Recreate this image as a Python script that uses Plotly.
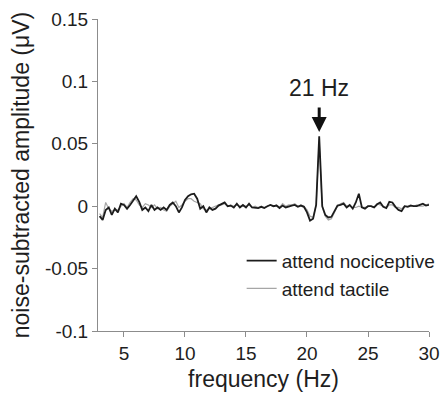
import plotly.graph_objects as go

freq = [3.00 + 0.25 * i for i in range(109)]

nociceptive = [
    -0.008, -0.011, -0.003, -0.001, -0.007, -0.002, -0.005, 0.002,   # 3.00-4.75
    0.001, -0.002, 0.001, 0.005, 0.008, 0.0035, -0.003, -0.001,     # 5.00-6.75
    -0.004, 0.001, -0.003, -0.001, -0.003, -0.001, -0.003, 0.001,   # 7.00-8.75
    0.003, 0.000, -0.005, -0.001, 0.005, 0.008, 0.0095, 0.010,      # 9.00-10.75
    0.006, -0.002, 0.000, -0.005, -0.001, -0.003, -0.002, 0.0005,   # 11.00-12.75
    0.002, 0.003, 0.000, 0.0005, -0.001, 0.002, -0.001, 0.001,      # 13.00-14.75
    -0.001, 0.002, -0.001, -0.001, -0.0015, -0.0005, -0.0015, 0.000,# 15.00-16.75
    0.001, 0.000, 0.0005, -0.0015, 0.0005, -0.001, 0.000, 0.0005,   # 17.00-18.75
    0.001, -0.0005, 0.0005, -0.0005, -0.005, -0.0115, -0.010, 0.001,# 19.00-20.75
    0.056, 0.000, -0.007, -0.009, -0.0085, -0.004, 0.0005, 0.001,   # 21.00-22.75
    0.002, -0.001, 0.001, -0.002, 0.003, 0.010, -0.001, -0.002,     # 23.00-24.75
    0.000, 0.000, -0.001, 0.0015, 0.003, -0.0005, -0.0015, 0.0035,  # 25.00-26.75
    0.003, -0.0005, -0.003, -0.004, 0.000, -0.0005, 0.0005, 0.000,  # 27.00-28.75
    0.000, 0.001, 0.002, 0.0005, 0.001,                             # 29.00-30.00
]

tactile = [
    -0.006, -0.009, 0.003, -0.002, -0.004, -0.003, -0.003, 0.000,
    0.002, -0.001, 0.003, 0.006, 0.005, 0.001, -0.001, 0.002,
    0.001, -0.001, 0.001, -0.002, -0.001, -0.003, -0.004, 0.000,
    0.002, 0.004, -0.001, 0.001, 0.004, 0.006, 0.006, 0.004,
    0.003, 0.002, -0.002, -0.003, -0.002, -0.001, 0.000, 0.001,
    0.001, 0.002, 0.000, 0.001, 0.000, 0.001, 0.000, 0.000,
    0.000, 0.001, -0.001, 0.000, -0.001, 0.000, -0.001, 0.000,
    0.001, 0.000, 0.001, -0.001, 0.002, 0.000, 0.001, 0.001,
    0.002, 0.000, 0.001, 0.000, -0.003, -0.008, -0.009, 0.001,
    0.052, -0.001, -0.008, -0.011, -0.010, -0.005, 0.000, 0.002,
    0.003, 0.000, 0.001, -0.001, -0.001, 0.000, -0.001, -0.001,
    0.000, 0.000, -0.001, 0.002, 0.001, 0.000, -0.001, 0.001,
    0.001, -0.001, -0.001, -0.002, 0.000, 0.000, 0.001, 0.000,
    0.001, 0.000, 0.000, 0.001, 0.002,
]

x_ticks = [5, 10, 15, 20, 25, 30]
x_ticktext = ["5", "10", "15", "20", "25", "30"]
y_ticks = [-0.1, -0.05, 0, 0.05, 0.1, 0.15]
y_ticktext = ["-0.1", "-0.05", "0", "0.05", "0.1", "0.15"]

peak_freq = 21
peak_label = "21 Hz"

FONT = "Liberation Sans, Arial, sans-serif"
TXT = "#1e1e1e"
AX = "#8c8c8c"

fig = go.Figure()
fig.add_trace(go.Scatter(x=freq, y=tactile, mode="lines", name="attend tactile",
                         line=dict(color="#a6a6a6", width=1.2), legendrank=2))
fig.add_trace(go.Scatter(x=freq, y=nociceptive, mode="lines", name="attend nociceptive",
                         line=dict(color="#1c1c1c", width=1.8), legendrank=1))

fig.add_annotation(x=peak_freq, y=0.0595, xref="x", yref="y", text="",
                   showarrow=True, ax=0, ay=-26, arrowhead=2, arrowsize=1,
                   arrowwidth=3, arrowcolor="#111111", standoff=0)
fig.add_annotation(x=peak_freq, y=0.095, xref="x", yref="y", text=peak_label,
                   showarrow=False, font=dict(family=FONT, size=23, color=TXT))

fig.update_layout(
    width=440, height=397,
    margin=dict(l=98, r=11, t=19, b=66, autoexpand=False),
    paper_bgcolor="white", plot_bgcolor="white",
    font=dict(family=FONT, color=TXT, size=19),
    showlegend=True,
    legend=dict(x=0.434, y=0.286, xanchor="left", yanchor="top",
                bgcolor="rgba(0,0,0,0)", font=dict(size=19, color=TXT),
                tracegroupgap=0),
    xaxis=dict(range=[2.87, 30], tickvals=x_ticks, ticktext=x_ticktext,
               showgrid=False, zeroline=False, showline=True, linecolor=AX,
               linewidth=1, ticks="outside", ticklen=5, tickcolor=AX,
               tickfont=dict(size=19, color=TXT),
               title=dict(text="frequency (Hz)", font=dict(size=23, color=TXT), standoff=8)),
    yaxis=dict(range=[-0.1, 0.15], tickvals=y_ticks, ticktext=y_ticktext,
               showgrid=False, zeroline=False, showline=True, linecolor=AX,
               linewidth=1, ticks="outside", ticklen=5, tickcolor=AX,
               tickfont=dict(size=19, color=TXT),
               title=dict(text="noise-subtracted amplitude (μV)", font=dict(size=23, color=TXT), standoff=8)),
)

fig.write_html("out.html")
